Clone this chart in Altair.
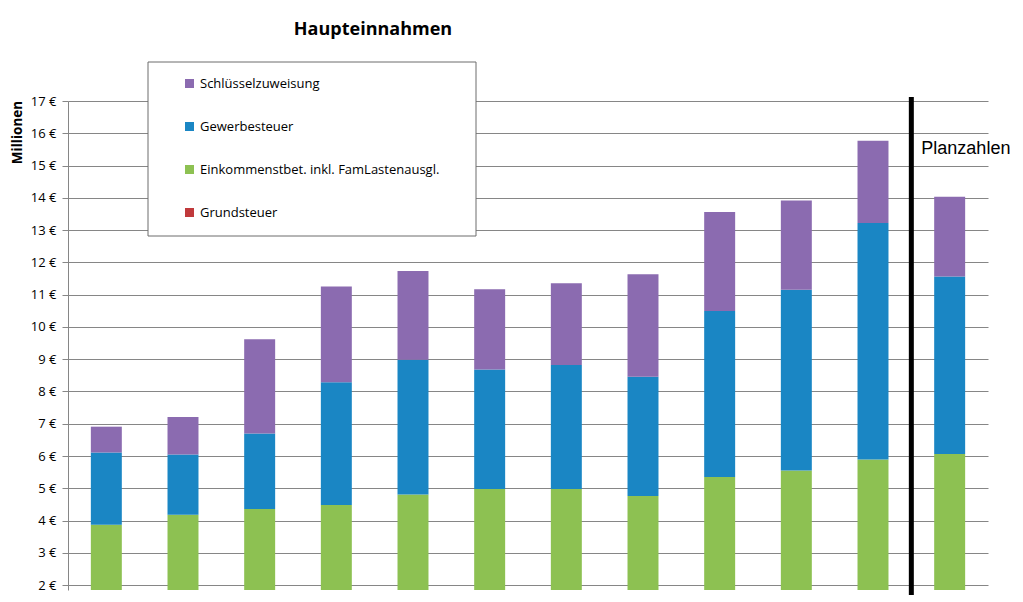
import altair as alt
import pandas as pd

jahre = ["2002", "2003", "2004", "2005", "2006", "2007", "2008", "2009", "2010", "2011", "2012", "Plan 2013"]
grundsteuer = [1.00, 1.05, 1.10, 1.10, 1.15, 1.20, 1.20, 1.25, 1.30, 1.35, 1.40, 1.45]
einkommen = [2.87, 3.13, 3.26, 3.38, 3.66, 3.78, 3.78, 3.51, 4.05, 4.20, 4.49, 4.61]
gewerbe = [2.24, 1.87, 2.34, 3.81, 4.17, 3.70, 3.84, 3.70, 5.14, 5.60, 7.33, 5.50]
schluessel = [0.80, 1.16, 2.92, 2.96, 2.75, 2.49, 2.53, 3.17, 3.07, 2.77, 2.55, 2.47]

serien = ["Schlüsselzuweisung", "Gewerbesteuer", "Einkommenstbet. inkl. FamLastenausgl.", "Grundsteuer"]
farben = ["#8b6bb0", "#1a86c4", "#8dc152", "#c0393b"]
stapel = {"Grundsteuer": 0, "Einkommenstbet. inkl. FamLastenausgl.": 1, "Gewerbesteuer": 2, "Schlüsselzuweisung": 3}

rows = []
for i, j in enumerate(jahre):
    for name, vals in [("Grundsteuer", grundsteuer),
                       ("Einkommenstbet. inkl. FamLastenausgl.", einkommen),
                       ("Gewerbesteuer", gewerbe),
                       ("Schlüsselzuweisung", schluessel)]:
        rows.append({"Jahr": j, "Art": name, "Wert": vals[i], "rank": stapel[name]})
df = pd.DataFrame(rows)

W, H = 920, 489
y_lo, y_hi = 1.85, 17
PAD_IN = 0.596
STEP = W / len(jahre)
# pixel distance from a bar's left edge back to the boundary between two categories
GAP_HALF = -(PAD_IN / 2) * STEP

xscale = alt.Scale(domain=jahre, paddingInner=PAD_IN, paddingOuter=PAD_IN / 2)

box = alt.Chart(pd.DataFrame({"k": [0]})).mark_rect(
    fill="white", stroke="#6d6d6d", strokeWidth=1
).encode(x=alt.value(80), x2=alt.value(408), y=alt.value(-39), y2=alt.value(135))

bars = alt.Chart(df).mark_bar(clip=True).encode(
    x=alt.X("Jahr:N", scale=xscale, axis=None, sort=jahre),
    y=alt.Y("sum(Wert):Q", stack="zero",
            scale=alt.Scale(domain=[y_lo, y_hi], nice=False, zero=False),
            axis=alt.Axis(values=list(range(2, 18)), labelExpr="datum.value + ' €'",
                          title="Millionen", titleFont="Open Sans", titleFontSize=13.5,
                          titleFontWeight="bold", titleColor="black",
                          titleAngle=270, titleX=-51, titleY=31, titleAlign="center",
                          titleBaseline="middle",
                          labelFont="Open Sans", labelFontSize=13, labelColor="black",
                          labelPadding=6,
                          grid=True, gridColor="#868686", gridWidth=1,
                          domainColor="#868686", tickColor="#868686", tickSize=6)),
    color=alt.Color("Art:N", scale=alt.Scale(domain=serien, range=farben), sort=serien,
                    legend=alt.Legend(title=None, orient="none", legendX=115, legendY=-24,
                                      direction="vertical", symbolType="square",
                                      symbolSize=81, symbolStrokeWidth=0,
                                      labelFont="Open Sans", labelFontSize=13,
                                      labelColor="black", labelOffset=4,
                                      rowPadding=29, labelLimit=400)),
    order=alt.Order("rank:Q"),
)

plan_df = pd.DataFrame({"Jahr": ["Plan 2013"], "label": ["Planzahlen"]})
rule = alt.Chart(plan_df).mark_rule(color="black", strokeWidth=5, xOffset=GAP_HALF).encode(
    x=alt.X("Jahr:N", scale=xscale, bandPosition=0, sort=jahre),
    y=alt.value(-4), y2=alt.value(H + 10),
)
plan_text = alt.Chart(plan_df).mark_text(
    align="left", baseline="middle", dx=GAP_HALF + 10, fontSize=18, font="Liberation Sans", color="black"
).encode(
    x=alt.X("Jahr:N", scale=xscale, bandPosition=0, sort=jahre),
    y=alt.value(48), text="label:N",
)

title_df = pd.DataFrame({"t": ["Haupteinnahmen"]})
title = alt.Chart(title_df).mark_text(
    align="center", baseline="middle", fontSize=18, font="Open Sans", fontWeight="bold", color="black"
).encode(x=alt.value(305), y=alt.value(-71), text="t:N")

chart = alt.layer(box, bars, rule, plan_text, title).properties(
    width=W, height=H,
    autosize=alt.AutoSizeParams(type="none"),
    padding={"left": 60, "top": 93, "right": 27, "bottom": 5},
).configure_view(stroke=None)

chart.save("out.html", embed_options={"renderer": "svg", "actions": False})
